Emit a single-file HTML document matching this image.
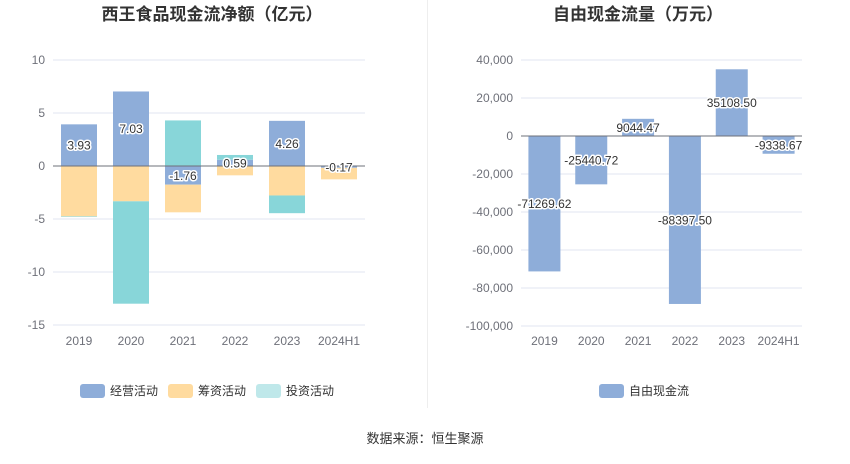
<!DOCTYPE html>
<html><head><meta charset="utf-8"><style>
body{margin:0;background:#fff;font-family:"Liberation Sans","Noto Sans CJK SC",sans-serif}
svg text{font-family:"Liberation Sans","Noto Sans CJK SC",sans-serif}
</style></head><body>
<svg id="s" width="850" height="459">
<text x="212" y="20" text-anchor="middle" font-size="17" font-weight="bold" fill="#333">西王食品现金流净额（亿元）</text>
<text x="638" y="20" text-anchor="middle" font-size="17" font-weight="bold" fill="#333">自由现金流量（万元）</text>
<line x1="427.5" y1="0" x2="427.5" y2="408" stroke="#eee"/>
<g id="L"></g><g id="R"></g>
<g>
<rect x="80" y="384" width="25" height="14" rx="3" fill="#8eadd9"/>
<text x="110" y="395" font-size="12" fill="#333">经营活动</text>
<rect x="168" y="384" width="25" height="14" rx="3" fill="#ffdb9f"/>
<text x="198" y="395" font-size="12" fill="#333">筹资活动</text>
<rect x="256" y="384" width="25" height="14" rx="3" fill="#bfe8ea"/>
<text x="286" y="395" font-size="12" fill="#333">投资活动</text>
</g>
<g>
<rect x="599" y="384" width="25" height="14" rx="3" fill="#8eadd9"/>
<text x="629" y="395" font-size="12" fill="#333">自由现金流</text>
</g>
<text x="425" y="443" text-anchor="middle" font-size="13" fill="#333">数据来源：恒生聚源</text>
</svg>
<script>
const categories=["2019","2020","2021","2022","2023","2024H1"];
const operating=[3.93,7.03,-1.76,0.59,4.26,-0.17];
const financing=[-4.75,-3.33,-2.61,-0.88,-2.78,-1.09];
const investing=[-0.05,-9.66,4.3,0.45,-1.67,0.05];
const leftTicks=[10,5,0,-5,-10,-15];
const fcf=[-71269.62,-25440.72,9044.47,-88397.50,35108.50,-9338.67];
const fcfLabels=["-71269.62","-25440.72","9044.47","-88397.50","35108.50","-9338.67"];
const rightTicks=[40000,20000,0,-20000,-40000,-60000,-80000,-100000];
const NS="http://www.w3.org/2000/svg";
function mk(p,t,a,txt){const e=document.createElementNS(NS,t);for(const k in a)e.setAttribute(k,a[k]);if(txt!=null)e.textContent=txt;p.appendChild(e);return e;}
function fmt(v){return v.toLocaleString('en-US');}
function axes(g,x0,x1,y,ticks,fmtf){
  for(const t of ticks){const yy=y(t);
    const l=mk(g,'line',{x1:x0,x2:x1,y1:yy,y2:yy,stroke:t===0?'#6e7079':'#e0e6f1'});
    
    
    const tx=mk(g,'text',{x:x0-8,y:yy+4,'text-anchor':'end','font-size':12,fill:'#6e7079'},fmtf(t));
    
    
  }
}
function label(g,x,y,s){
  const t=mk(g,'text',{x:x,y:y+4.5,'text-anchor':'middle','font-size':12,fill:'#333',stroke:'#fff','stroke-width':3,'paint-order':'stroke','stroke-linejoin':'round'},s);
  
  
}
// left chart
(function(){
  const g=document.getElementById('L');
  const x0=53,x1=365,bw=(x1-x0)/categories.length;
  const y=v=>166-v*(166-60)/10;
  axes(g,x0,x1,y,leftTicks,t=>String(t));
  const series=[[operating,'#8eadd9','bar-operating'],[financing,'#ffdb9f','bar-financing'],[investing,'#88d6d9','bar-investing']];
  categories.forEach((c,i)=>{
    let pos=0,neg=0;const cx=x0+bw*(i+0.5);
    for(const [arr,col,nm] of series){
      const v=arr[i];let a,b;
      if(v>=0){a=pos;b=pos+v;pos=b;}else{a=neg;b=neg+v;neg=b;}
      const r=mk(g,'rect',{x:cx-18,width:36,y:Math.min(y(a),y(b)),height:Math.abs(y(a)-y(b)),fill:col});
      
      
    }
    const t=mk(g,'text',{x:cx,y:345,'text-anchor':'middle','font-size':12,fill:'#6e7079'},c);
    
    
  });
  mk(g,'line',{x1:x0,x2:x1,y1:y(0),y2:y(0),stroke:'#6e7079'});
  categories.forEach((c,i)=>{const cx=x0+bw*(i+0.5);label(g,cx,y(operating[i]/2),operating[i].toFixed(2));});
})();
// right chart
(function(){
  const g=document.getElementById('R');
  const x0=521,x1=802,bw=(x1-x0)/categories.length;
  const y=v=>136-v*(136-60)/40000;
  axes(g,x0,x1,y,rightTicks,fmt);
  categories.forEach((c,i)=>{
    const cx=x0+bw*(i+0.5),v=fcf[i];
    const r=mk(g,'rect',{x:cx-16,width:32,y:Math.min(y(0),y(v)),height:Math.abs(y(v)-y(0)),fill:'#8eadd9'});
    
    
    const t=mk(g,'text',{x:cx,y:345,'text-anchor':'middle','font-size':12,fill:'#6e7079'},c);
    
    
  });
  mk(g,'line',{x1:x0,x2:x1,y1:y(0),y2:y(0),stroke:'#6e7079'});
  categories.forEach((c,i)=>{const cx=x0+bw*(i+0.5);label(g,cx,y(fcf[i]/2),fcfLabels[i]);});
})();
</script>
</body></html>
